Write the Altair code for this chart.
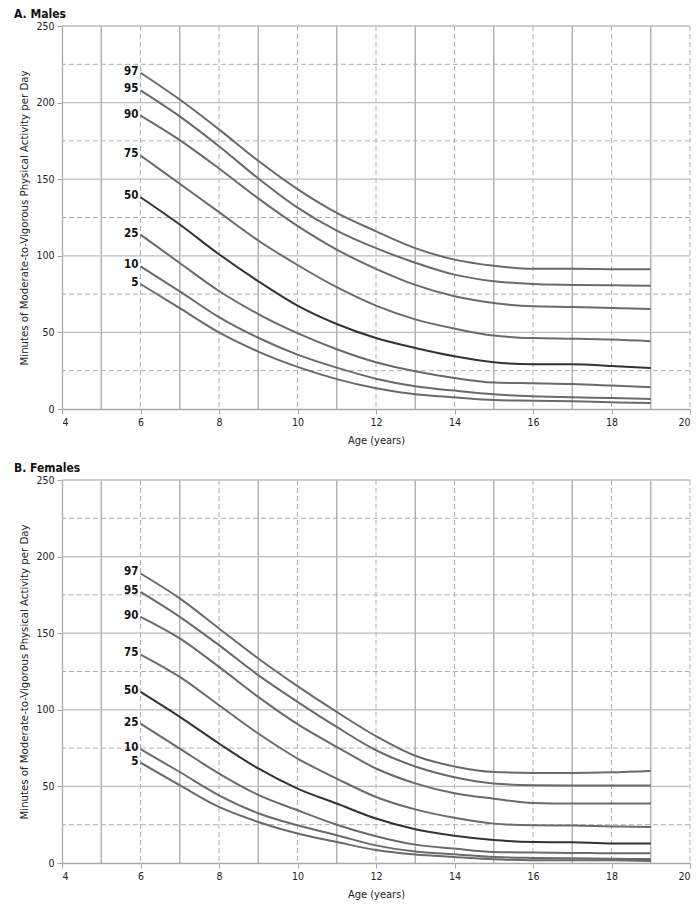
import altair as alt
import pandas as pd

AGES = [6, 7, 8, 9, 10, 11, 12, 13, 14, 15, 16, 17, 18, 19]
PCTS = [97, 95, 90, 75, 50, 25, 10, 5]

# Males
M97 = [219.5, 202, 182.5, 162, 143.5, 128, 116, 105, 97.5, 93.5, 91.5, 91.5, 91.3, 91.2]
M95 = [208, 191, 171.5, 150.5, 131.5, 116.5, 105, 95.5, 87.7, 83.4, 81.6, 81, 80.7, 80.5]
M90 = [191.5, 175.5, 157, 137.5, 119.5, 104, 91.5, 81, 73.6, 69.2, 67, 66.6, 65.9, 65.3]
M75 = [165.5, 147, 128.5, 110, 94, 79.5, 67.5, 58.5, 52.5, 47.9, 46.3, 45.9, 45.3, 44.2]
M50 = [138.2, 120.4, 101, 83.4, 67.5, 55.5, 46.3, 39.8, 34.4, 30.5, 29.2, 29.2, 28, 26.8]
M25 = [113.8, 95.3, 77, 62, 49.5, 39, 30.5, 24.6, 20.2, 17.3, 16.8, 16.3, 15.3, 14.2]
M10 = [93.1, 76.8, 60, 46.5, 35.5, 27, 19.8, 14.8, 12, 9.6, 8.3, 7.6, 7.2, 6.5]
M5 = [81.6, 65.9, 50, 37.5, 27.5, 19.5, 13.5, 9.6, 7.6, 5.8, 5.4, 5, 4.4, 3.9]

# Females
F97 = [189, 172.7, 153.1, 133.5, 115.5, 98.6, 82.8, 70, 63, 59.4, 58.8, 58.8, 59.2, 60.1]
F95 = [177, 160.7, 142.2, 122.6, 105.2, 88.8, 73.6, 63, 56, 51.9, 50.8, 50.6, 50.6, 50.6]
F90 = [160.7, 146.6, 128, 108.4, 90.6, 75.8, 61.7, 52, 45.5, 42, 39.2, 38.8, 38.8, 38.8]
F75 = [136.1, 121.5, 103, 84.5, 68.2, 55.1, 43.1, 35, 29.5, 25.7, 24.6, 24.4, 23.9, 23.5]
F50 = [111.7, 95.4, 78, 61.7, 48.6, 38.8, 29, 22, 17.8, 15, 13.7, 13.5, 12.8, 12.8]
F25 = [91, 74.7, 58.4, 44.5, 34.4, 25, 17.5, 12, 9.4, 7.2, 6.8, 6.6, 6.3, 6.3]
F10 = [74.3, 59.4, 44.2, 32.5, 24.6, 18.1, 11.5, 7.5, 5.7, 3.9, 3.3, 3.1, 2.7, 2.6]
F5 = [65.6, 50.8, 36.6, 26.8, 19.2, 13.7, 8.5, 5.5, 3.9, 2.4, 1.8, 1.8, 1.8, 1.3]

X_TICKS = [4, 6, 8, 10, 12, 14, 16, 18, 20]
Y_TICKS = [0, 50, 100, 150, 200, 250]
V_SOLID = [5, 7, 9, 11, 13, 15, 17, 19]
V_DASH = [6, 8, 10, 12, 14, 16, 18, 20]
H_SOLID = [50, 100, 150, 200, 250]
H_DASH = [25, 75, 125, 175, 225]

FONT = "DejaVu Sans Condensed, Liberation Sans Narrow, Arial Narrow, sans-serif"
W, H = 628, 383


def long_df(series):
    rows = []
    for p, vals in zip(PCTS, series):
        for a, v in zip(AGES, vals):
            rows.append({"age": a, "value": v, "pct": str(p)})
    return pd.DataFrame(rows)


def panel(series, title):
    df = long_df(series)
    starts = df[df["age"] == AGES[0]]
    xs = alt.Scale(domain=[4, 20], nice=False)
    ys = alt.Scale(domain=[0, 250], nice=False)
    xax = alt.Axis(values=X_TICKS, grid=False, title="Age (years)", titlePadding=7)
    yax = alt.Axis(values=Y_TICKS, grid=False,
                   title="Minutes of Moderate-to-Vigorous Physical Activity per Day",
                   titleFontSize=11.3, titlePadding=6)

    vs = alt.Chart(pd.DataFrame({"v": V_SOLID})).mark_rule(
        color="#a8a8a8", strokeWidth=1.3).encode(x=alt.X("v:Q", scale=xs, axis=xax))
    vd = alt.Chart(pd.DataFrame({"v": V_DASH})).mark_rule(
        color="#b0b0b0", strokeWidth=1, strokeDash=[5, 3]).encode(x=alt.X("v:Q", scale=xs))
    hs = alt.Chart(pd.DataFrame({"v": H_SOLID})).mark_rule(
        color="#bdbdbd", strokeWidth=1.3).encode(y=alt.Y("v:Q", scale=ys, axis=yax))
    hd = alt.Chart(pd.DataFrame({"v": H_DASH})).mark_rule(
        color="#b0b0b0", strokeWidth=1, strokeDash=[5, 3]).encode(y=alt.Y("v:Q", scale=ys))

    pct_order = [str(p) for p in PCTS]
    color = alt.Color("pct:N", scale=alt.Scale(
        domain=pct_order,
        range=["#333333" if p == 50 else "#6a6a6a" for p in PCTS]), legend=None)
    width = alt.StrokeWidth("pct:N", scale=alt.Scale(
        domain=pct_order, range=[2.8 if p == 50 else 2.0 for p in PCTS]), legend=None)

    lines = alt.Chart(df).mark_line(interpolate="monotone").encode(
        x=alt.X("age:Q", scale=xs),
        y=alt.Y("value:Q", scale=ys),
        detail="pct:N", color=color, strokeWidth=width)

    labels = alt.Chart(starts).mark_text(
        align="right", baseline="middle", dx=-2, dy=-1,
        font=FONT, fontSize=11.5, fontWeight="bold", color="#111").encode(
        x=alt.X("age:Q", scale=xs), y=alt.Y("value:Q", scale=ys), text="pct:N")

    return alt.layer(vs, vd, hs, hd, lines, labels).properties(
        width=W, height=H,
        title=alt.TitleParams(title, anchor="start", frame="bounds", dx=-5,
                              fontSize=12, fontWeight="bold", font=FONT,
                              color="#111", offset=0))


top = panel([M97, M95, M90, M75, M50, M25, M10, M5], "A. Males")
bottom = panel([F97, F95, F90, F75, F50, F25, F10, F5], "B. Females")

chart = alt.vconcat(top, bottom, spacing=16).properties(
    padding={"left": 5, "top": 0, "right": 0, "bottom": 0}
).configure_view(stroke=None).configure_axis(
    labelFont=FONT, labelFontSize=10.5, labelColor="#222",
    titleFont=FONT, titleFontSize=11, titleColor="#222", titleFontWeight="normal",
    domainColor="#a8a8a8", domainWidth=1.3, tickColor="#a8a8a8", tickSize=5,
    labelPadding=3)

chart.save("out.html", embed_options={"renderer": "svg", "actions": False})
